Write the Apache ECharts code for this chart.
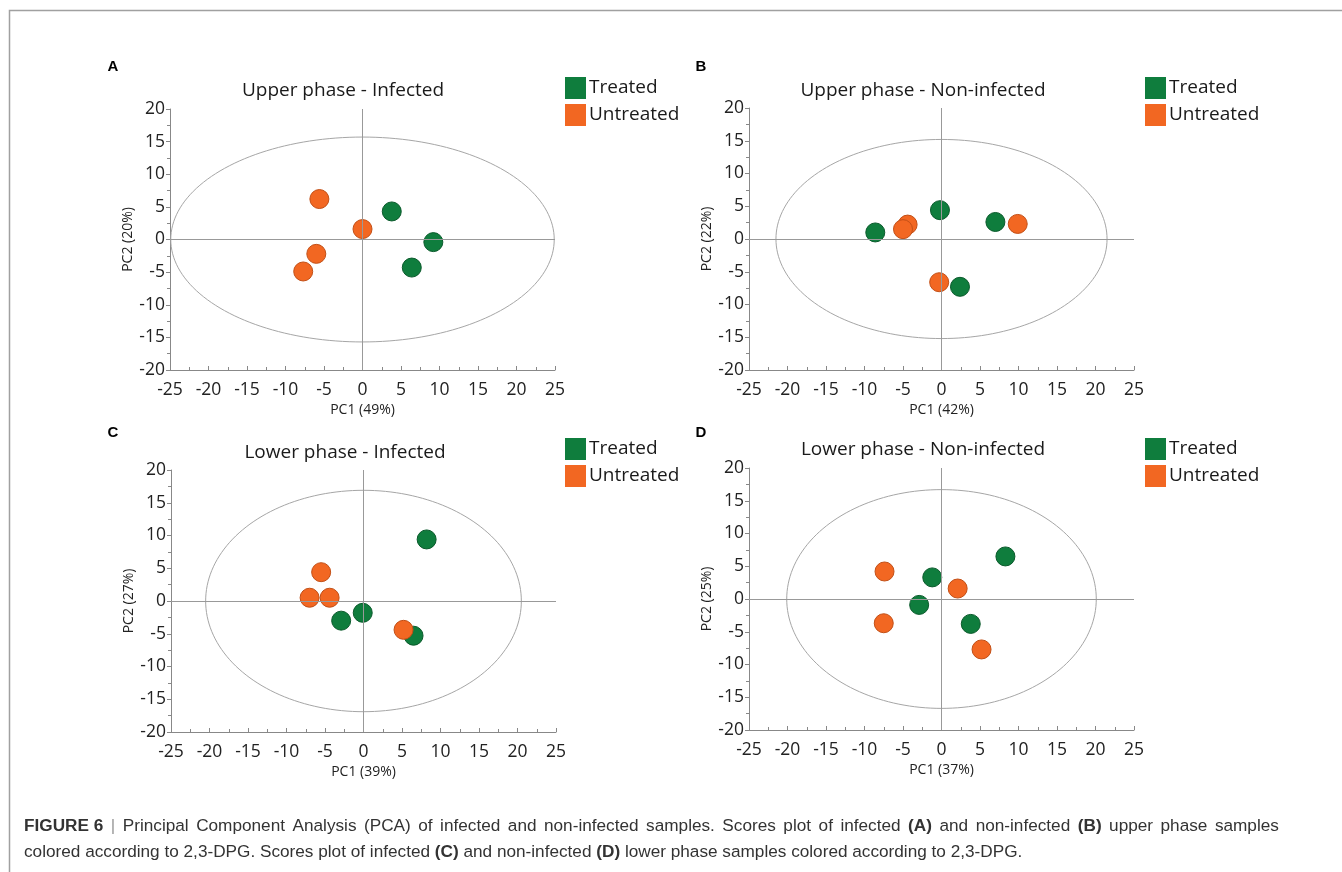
<!DOCTYPE html>
<html>
<head>
<meta charset="utf-8">
<script src="https://cdn.jsdelivr.net/npm/echarts@6/dist/echarts.min.js"></script>
<style>
  html, body { margin: 0; padding: 0; background: #fff; }
  #chart { width: 1342px; height: 872px; }
</style>
</head>
<body>
<div id="chart"></div>
<script>
// scores, [PC1, PC2]
const treatedA = [[3.8, 4.3], [9.2, -0.4], [6.4, -4.3]];
const untreatedA = [[-5.6, 6.2], [0, 1.6], [-6.0, -2.2], [-7.7, -4.9]];
const treatedB = [[-8.6, 1.0], [-0.2, 4.4], [7.0, 2.6], [2.4, -7.3]];
const untreatedB = [[-4.4, 2.2], [-5.0, 1.5], [9.9, 2.3], [-0.3, -6.6]];
const treatedC = [[8.2, 9.4], [-0.1, -1.8], [-2.9, -3.0], [6.5, -5.3]];
const untreatedC = [[-5.5, 4.4], [-7.0, 0.5], [-4.4, 0.5], [5.2, -4.4]];
const treatedD = [[8.3, 6.5], [-1.2, 3.3], [-2.9, -0.9], [3.8, -3.8]];
const untreatedD = [[-7.4, 4.2], [2.1, 1.6], [-7.5, -3.7], [5.2, -7.7]];

// confidence ellipse per panel: [cx, cy, semi-axis PC1, semi-axis PC2]
const ellipseA = [0, 0, 24.9, 15.7];
const ellipseB = [0, 0, 21.5, 15.2];
const ellipseC = [0, 0, 20.5, 16.9];
const ellipseD = [0, 0, 20.1, 16.7];

const panelTitles = ['Upper phase - Infected', 'Upper phase - Non-infected', 'Lower phase - Infected', 'Lower phase - Non-infected'];
const panelLetters = ['A', 'B', 'C', 'D'];
const pc1Names = ['PC1 (49%)', 'PC1 (42%)', 'PC1 (39%)', 'PC1 (37%)'];
const pc2Names = ['PC2 (20%)', 'PC2 (22%)', 'PC2 (27%)', 'PC2 (25%)'];
const groups = ['Treated', 'Untreated'];
const xMin = -25, xMax = 25, xStep = 5;
const yMin = -20, yMax = 20, yStep = 5;

const treated = [treatedA, treatedB, treatedC, treatedD];
const untreated = [untreatedA, untreatedB, untreatedC, untreatedD];
const ellipses = [ellipseA, ellipseB, ellipseC, ellipseD];

const FONT = 'Open Sans';
const GREEN = '#0f7d3d';
const ORANGE = '#f26722';

// layout of the four panels (px)
const boxes = [
  { left: 170, top: 109, width: 385, height: 261, title: [338, 89], letter: [113, 67], legend: [565, 77] },
  { left: 749, top: 108, width: 385, height: 262, title: [918, 89], letter: [701, 67], legend: [1145, 77] },
  { left: 171, top: 470, width: 385, height: 262, title: [340, 451], letter: [113, 433], legend: [565, 438] },
  { left: 749, top: 468, width: 385, height: 262, title: [918, 448], letter: [701, 433], legend: [1145, 438] }
];

let myChart = echarts.init(document.getElementById('chart'));

const grid = [], xAxis = [], yAxis = [], series = [], title = [], legend = [], graphic = [];

boxes.forEach(function (b, i) {
  grid.push({ left: b.left, top: b.top, width: b.width, height: b.height });
  xAxis.push({
    gridIndex: i, type: 'value', min: xMin, max: xMax, interval: xStep,
    name: pc1Names[i], nameLocation: 'middle', nameGap: 33,
    nameTextStyle: { fontFamily: FONT, fontSize: 14, color: '#222' },
    axisLine: { onZero: false, lineStyle: { color: '#888', width: 1 } },
    axisTick: { show: true, inside: true, length: 4, lineStyle: { color: '#888' } },
    minorTick: { show: true, splitNumber: 2, length: 3, lineStyle: { color: '#888' } },
    splitLine: { show: false },
    axisLabel: { fontFamily: FONT, fontSize: 17.5, color: '#222', margin: 11 }
  });
  yAxis.push({
    gridIndex: i, type: 'value', min: yMin, max: yMax, interval: yStep,
    name: pc2Names[i], nameLocation: 'middle', nameRotate: 90, nameGap: 34,
    nameTextStyle: { fontFamily: FONT, fontSize: 14, color: '#222' },
    axisLine: { show: true, onZero: false, lineStyle: { color: '#888', width: 1 } },
    axisTick: { show: true, length: 4, lineStyle: { color: '#888' } },
    minorTick: { show: true, splitNumber: 2, length: 3, lineStyle: { color: '#888' } },
    splitLine: { show: false },
    axisLabel: { fontFamily: FONT, fontSize: 17.5, color: '#222', margin: 5 }
  });
  // ellipse + zero cross lines
  series.push({
    type: 'custom', xAxisIndex: i, yAxisIndex: i, silent: true, z: 1,
    data: [ellipses[i]],
    renderItem: function (params, api) {
      const cx = api.value(0), cy = api.value(1), rx = api.value(2), ry = api.value(3);
      const pts = [];
      for (let k = 0; k <= 180; k++) {
        const t = k / 180 * Math.PI * 2;
        pts.push(api.coord([cx + rx * Math.cos(t), cy + ry * Math.sin(t)]));
      }
      return { type: 'polygon', shape: { points: pts }, style: { fill: 'none', stroke: '#a6a6a6', lineWidth: 1 } };
    },
    markLine: {
      silent: true, symbol: 'none', label: { show: false },
      lineStyle: { color: '#999', width: 1, type: 'solid' },
      data: [{ xAxis: 0 }, { yAxis: 0 }]
    }
  });
  series.push({
    name: groups[0], type: 'scatter', xAxisIndex: i, yAxisIndex: i, z: 3,
    symbolSize: 19, data: treated[i],
    itemStyle: { color: GREEN, opacity: 1, borderColor: '#0a5a2b', borderWidth: 1 }
  });
  series.push({
    name: groups[1], type: 'scatter', xAxisIndex: i, yAxisIndex: i, z: 3,
    symbolSize: 19, data: untreated[i],
    itemStyle: { color: ORANGE, opacity: 1, borderColor: '#c24f16', borderWidth: 1 }
  });
  title.push({
    text: panelTitles[i], left: b.title[0], top: b.title[1] - 13, textAlign: 'center',
    textStyle: { fontFamily: FONT, fontSize: 19, fontWeight: 'normal', color: '#1a1a1a' }
  });
  legend.push({
    data: groups, orient: 'vertical', left: b.legend[0], top: b.legend[1],
    icon: 'rect', itemWidth: 21, itemHeight: 22, itemGap: 5, padding: 0,
    selectedMode: false,
    itemStyle: { borderWidth: 0 },
    textStyle: { fontFamily: FONT, fontSize: 19, color: '#1a1a1a', padding: [0, 0, 0, -2] }
  });
  graphic.push({
    type: 'text', x: b.letter[0], y: b.letter[1],
    style: { text: panelLetters[i], fontFamily: 'Liberation Sans', fontWeight: 'bold', fontSize: 15, fill: '#000', align: 'center', verticalAlign: 'middle' }
  });
});

// figure frame
graphic.push({
  type: 'polyline', shape: { points: [[9.5, 872], [9.5, 10.5], [1342, 10.5]] },
  style: { stroke: '#a0a0a0', lineWidth: 1.5, fill: 'none' }
});

// caption: first line is justified in the source, so its spaces are widened
const line1 = '{b|FIGURE 6} {p||} Principal Component Analysis (PCA) of infected and non-infected samples. Scores plot of infected {b|(A)} and non-infected {b|(B)} upper phase samples';
const line2 = 'colored according to 2,3-DPG. Scores plot of infected {b|(C)} and non-infected {b|(D)} lower phase samples colored according to 2,3-DPG.';
const CAP = 17.2;
graphic.push({
  type: 'text', x: 24, y: 813,
  style: {
    text: line1.replace(/ (?![^{]*\})/g, '{s| }') + '\n' + line2,
    fontFamily: 'Liberation Sans', fontSize: CAP, fill: '#333', lineHeight: 26, verticalAlign: 'top',
    rich: {
      b: { fontFamily: 'Liberation Sans', fontSize: CAP, fontWeight: 'bold', fill: '#333', lineHeight: 26 },
      p: { fontFamily: 'Liberation Sans', fontSize: CAP, fill: '#999', lineHeight: 26 },
      s: { fontFamily: 'Liberation Sans', fontSize: CAP, width: 7.5, lineHeight: 26 }
    }
  }
});

myChart.setOption({
  backgroundColor: '#fff',
  animation: false,
  title: title,
  legend: legend,
  grid: grid,
  xAxis: xAxis,
  yAxis: yAxis,
  series: series,
  graphic: graphic
});
</script>
</body>
</html>
